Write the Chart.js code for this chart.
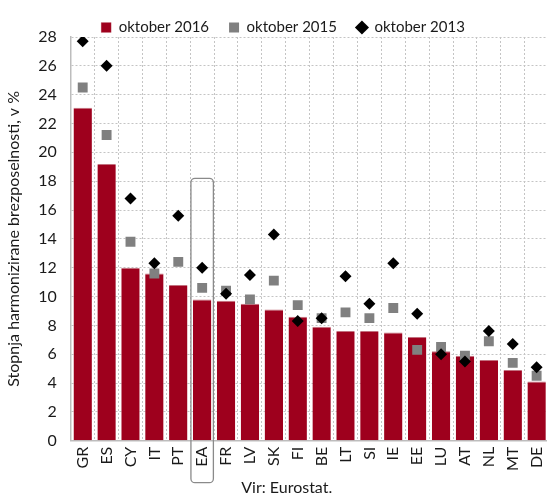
<!DOCTYPE html>
<html>
<head>
<meta charset="utf-8">
<script src="https://cdn.jsdelivr.net/npm/chart.js@4/dist/chart.umd.min.js"></script>
<style>
  html, body { margin: 0; padding: 0; background: #fff; overflow: hidden; }
  #wrap { position: relative; width: 562px; height: 494px; }
</style>
</head>
<body>
<div id="wrap"><canvas id="c" width="562" height="494"></canvas></div>
<script>
const categories = ['GR','ES','CY','IT','PT','EA','FR','LV','SK','FI','BE','LT','SI','IE','EE','LU','AT','NL','MT','DE'];
const oct2016 = [23.1, 19.2, 12.0, 11.6, 10.8, 9.8, 9.7, 9.5, 9.1, 8.6, 7.9, 7.6, 7.6, 7.5, 7.2, 6.2, 5.9, 5.6, 4.9, 4.1];
const oct2015 = [24.5, 21.2, 13.8, 11.6, 12.4, 10.6, 10.4, 9.8, 11.1, 9.4, 8.5, 8.9, 8.5, 9.2, 6.3, 6.5, 5.9, 6.9, 5.4, 4.5];
const oct2013 = [27.7, 26.0, 16.8, 12.3, 15.6, 12.0, 10.2, 11.5, 14.3, 8.3, 8.5, 11.4, 9.5, 12.3, 8.8, 6.0, 5.5, 7.6, 6.7, 5.1];
const seriesNames = ['oktober 2016', 'oktober 2015', 'oktober 2013'];
const yTicks = [0,2,4,6,8,10,12,14,16,18,20,22,24,26,28];
const highlightCategory = 'EA';
const highlightTop = 18.2;
const yTitle = 'Stopnja harmonizirane brezposelnosti, v %';
const sourceNote = 'Vir: Eurostat.';

const FONT = 'Lato, "Open Sans", sans-serif';

const extras = {
  id: 'extras',
  beforeInit(chart) {
    const lg = chart.legend;
    if (lg) {
      const fit = lg.fit;
      lg.fit = function () { fit.call(this); this.height -= 8; };
    }
  },
  afterDraw(chart) {
    const ctx = chart.ctx;
    const xs = chart.scales.x, ys = chart.scales.y;
    const idx = categories.indexOf(highlightCategory);
    const cx = xs.getPixelForValue(idx);
    const cw = (xs.right - xs.left) / categories.length;
    const hw = cw * 0.47;
    const top = ys.getPixelForValue(highlightTop);
    const bottom = chart.chartArea.bottom + 42;
    const r = 4;
    ctx.save();
    ctx.strokeStyle = '#8a8a8a';
    ctx.lineWidth = 1.3;
    ctx.beginPath();
    ctx.roundRect(cx - hw, top, hw * 2, bottom - top, r);
    ctx.stroke();
    ctx.fillStyle = '#1a1a1a';
    ctx.font = '16px ' + FONT;
    ctx.textAlign = 'center';
    ctx.textBaseline = 'middle';
    ctx.fillText(sourceNote, chart.chartArea.left + (chart.chartArea.right - chart.chartArea.left) * 0.452, chart.chartArea.bottom + 47);
    ctx.restore();
  }
};

new Chart(document.getElementById('c'), {
  data: {
    labels: categories,
    datasets: [
      {
        type: 'bar',
        label: seriesNames[0],
        data: oct2016,
        backgroundColor: '#9e001d',
        borderColor: '#c2707e',
        borderWidth: { top: 1, left: 0, right: 0, bottom: 0 },
        borderSkipped: false,
        barPercentage: 0.77,
        categoryPercentage: 1.0,
        pointStyle: 'rect',
        order: 3
      },
      {
        type: 'line',
        label: seriesNames[1],
        data: oct2015,
        showLine: false,
        pointStyle: 'rect',
        pointRadius: 7,
        pointHoverRadius: 7,
        backgroundColor: '#808080',
        borderColor: '#808080',
        pointBorderWidth: 0,
        order: 2
      },
      {
        type: 'line',
        label: seriesNames[2],
        data: oct2013,
        showLine: false,
        pointStyle: 'rectRot',
        pointRadius: 6,
        pointHoverRadius: 6,
        backgroundColor: '#000000',
        borderColor: '#000000',
        pointBorderWidth: 0,
        order: 1
      }
    ]
  },
  options: {
    responsive: false,
    animation: false,
    layout: { padding: { left: 4, right: 0, top: 0, bottom: 17 } },
    plugins: {
      legend: {
        position: 'top',
        labels: {
          usePointStyle: true,
          boxHeight: 10,
          boxWidth: 10,
          padding: 20,
          color: '#1a1a1a',
          sort: (a, b) => a.datasetIndex - b.datasetIndex,
          font: { family: FONT, size: 15 }
        }
      },
      tooltip: { enabled: false }
    },
    scales: {
      x: {
        offset: true,
        grid: {
          offset: true,
          color: '#c4c4c4',
          lineWidth: 1,
          drawTicks: false
        },
        border: { display: true, color: '#bdbdbd', width: 1.5, dash: [2, 2] },
        ticks: {
          minRotation: 90,
          maxRotation: 90,
          autoSkip: false,
          padding: 6,
          color: '#1a1a1a',
          font: { family: FONT, size: 16 }
        }
      },
      y: {
        min: 0,
        max: 28,
        afterBuildTicks(axis) { axis.ticks = yTicks.map(v => ({ value: v })); },
        grid: {
          color: '#c4c4c4',
          lineWidth: 1,
          drawTicks: false
        },
        border: { display: true, color: '#bdbdbd', width: 1.5, dash: [2, 2] },
        ticks: {
          padding: 14,
          color: '#1a1a1a',
          font: { family: FONT, size: 16 }
        },
        title: {
          display: true,
          text: yTitle,
          color: '#1a1a1a',
          padding: { top: 0, bottom: 1 },
          font: { family: FONT, size: 16 }
        }
      }
    }
  },
  plugins: [extras]
});
</script>
</body>
</html>
